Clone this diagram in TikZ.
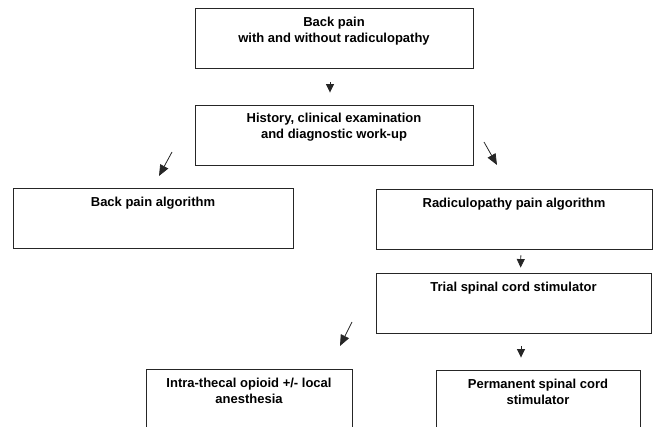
\documentclass[tikz,border=0pt]{standalone}
\usepackage{fontspec}
\setmainfont{Liberation Sans}
\usetikzlibrary{arrows.meta}
\tikzset{
  box/.style={draw=black!85, line width=0.9pt, rectangle, inner sep=0pt},
  lbl/.style={anchor=north, inner sep=0pt, align=center, font=\fontsize{13}{16}\selectfont\bfseries},
  arr/.style={draw=black!85, line width=0.8pt, -{Triangle[length=8.5pt,width=8pt]}},
  darr/.style={draw=black!85, line width=0.8pt, -{Triangle[length=11pt,width=9pt]}}
}
\begin{document}
\begin{tikzpicture}[x=1pt,y=1pt]
\useasboundingbox (0,0) rectangle (654,-427);
\clip (0,0) rectangle (654,-427);
% boxes
\node[box, minimum width=278pt, minimum height=60pt] (b1) at (334,-38) {};
\node[box, minimum width=278pt, minimum height=60pt] (b2) at (334,-135) {};
\node[box, minimum width=280pt, minimum height=60pt] (b3) at (153,-218) {};
\node[box, minimum width=276pt, minimum height=60pt] (b4) at (514,-219) {};
\node[box, minimum width=275pt, minimum height=60pt] (b5) at (513.5,-303) {};
\node[box, minimum width=206pt, minimum height=80pt] (b6) at (249,-409) {};
\node[box, minimum width=204pt, minimum height=80pt] (b7) at (538,-410) {};
% labels
\node[lbl] (t1) at ([yshift=-9pt]b1.north) {Back pain\\with and without radiculopathy};
\node[lbl] (t2) at ([yshift=-8pt]b2.north) {History, clinical examination\\and diagnostic work-up};
\node[lbl] (t3) at ([yshift=-9pt]b3.north) {Back pain algorithm};
\node[lbl] (t4) at ([yshift=-9pt]b4.north) {Radiculopathy pain algorithm};
\node[lbl] (t5) at ([yshift=-9pt]b5.north) {Trial spinal cord stimulator};
\node[lbl] (t6) at ([yshift=-9pt]b6.north) {Intra-thecal opioid +/- local\\anesthesia};
\node[lbl] (t7) at ([yshift=-9pt]b7.north) {Permanent spinal cord\\stimulator};
% arrow end points
\coordinate (a2s) at (172,-152);
\coordinate (a2e) at (159,-176);
\coordinate (a3s) at (484,-142);
\coordinate (a3e) at (497,-165);
\coordinate (a6s) at (352,-322);
\coordinate (a6e) at (340,-346);
% arrows
\draw[arr, shorten <=14pt, shorten >=12pt] ([xshift=-4pt]b1.south) -- ([xshift=-4pt]b2.north);
\draw[darr] (a2s) -- (a2e);
\draw[darr] (a3s) -- (a3e);
\draw[arr, shorten <=6pt, shorten >=5pt] ([xshift=7pt]b4.south) -- ([xshift=7pt]b5.north);
\draw[arr, shorten <=13pt, shorten >=12pt] ([xshift=7.5pt]b5.south) -- ([xshift=-17pt]b7.north);
\draw[darr] (a6s) -- (a6e);
\end{tikzpicture}
\end{document}
